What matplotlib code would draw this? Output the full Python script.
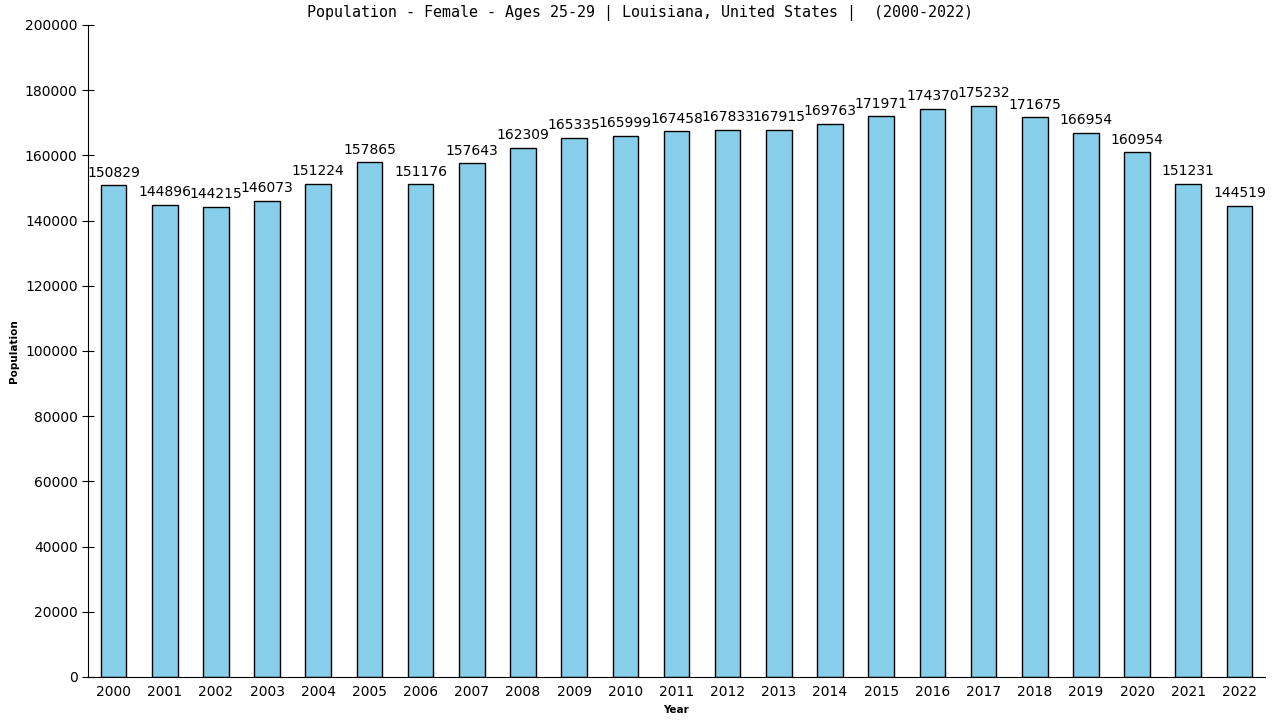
import matplotlib
matplotlib.use("Agg")
import matplotlib.pyplot as plt

years = list(range(2000, 2023))
population = [150829, 144896, 144215, 146073, 151224, 157865, 151176, 157643,
              162309, 165335, 165999, 167458, 167833, 167915, 169763, 171971,
              174370, 175232, 171675, 166954, 160954, 151231, 144519]
title = "Population - Female - Ages 25-29 | Louisiana, United States |  (2000-2022)"

fig = plt.figure(figsize=(12.8, 7.2), dpi=100)
ax = fig.add_axes([88/1280, 1 - 677/720, (1265 - 88)/1280, (677 - 25)/720])

x = list(range(len(years)))
ax.bar(x, population, width=0.5, color="#87CEEB", edgecolor="black", linewidth=1)

for xi, v in zip(x, population):
    ax.annotate(str(v), (xi, v), xytext=(0, 4), textcoords="offset points",
                ha="center", va="bottom", fontsize=10, family="DejaVu Sans")

ax.set_xlim(-0.5, len(years) - 0.5)
ax.set_ylim(0, 200000)
ax.set_yticks(range(0, 200001, 20000))
ax.set_xticks(x)
ax.set_xticklabels([str(y) for y in years])
ax.tick_params(axis="y", direction="inout", length=8, labelsize=10)
ax.tick_params(axis="x", length=0, labelsize=10, pad=6)
for s in ["top", "right"]:
    ax.spines[s].set_visible(False)

fig.text(0.5, 1 - 13/720, title, ha="center", va="center",
         fontsize=10.8, family="DejaVu Sans Mono")
ax.set_xlabel("Year", fontsize=7.5, fontweight="bold", labelpad=4)
ax.set_ylabel("Population", fontsize=7.5, fontweight="bold", labelpad=4)

fig.savefig("out.png", dpi=100)
